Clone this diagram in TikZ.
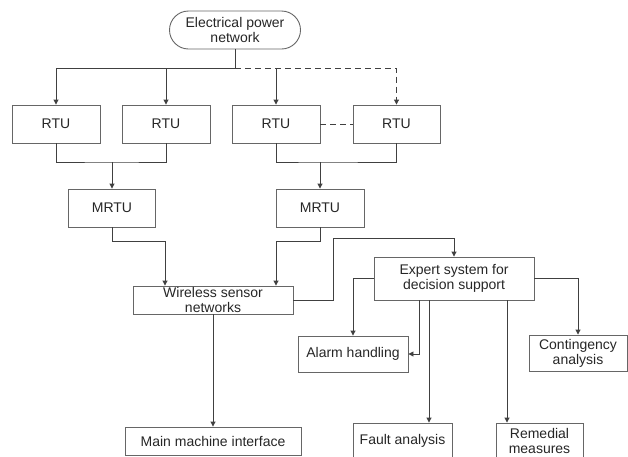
\documentclass[tikz,border=0pt]{standalone}
\usepackage{fontspec}
\setmainfont{Liberation Sans}
\usetikzlibrary{arrows.meta}
\begin{document}
\begin{tikzpicture}[x=1pt, y=-1pt, color=black!75, line width=0.9pt,
  box/.style = {shape=rectangle, draw=black!60, line width=0.9pt,
    align=center, inner sep=0pt, text=black!85,
    font=\fontsize{14}{15}\selectfont},
  arr/.style = {-{Triangle[width=5pt,length=5pt]}}]
  \useasboundingbox (0,0) rectangle (628,456);
  % top of the network
  \node[box, rounded corners=19pt, minimum width=131pt, minimum height=38pt] (epn) at (235,30) {Electrical power\\network};
  \node[box, minimum width=88pt, minimum height=38pt] (rtu1) at (56,124) {RTU};
  \node[box, minimum width=88pt, minimum height=38pt] (rtu2) at (166,124) {RTU};
  \node[box, minimum width=88pt, minimum height=38pt] (rtu3) at (276,124) {RTU};
  \node[box, minimum width=87pt, minimum height=38pt] (rtu4) at (396.5,124) {RTU};
  \node[box, minimum width=87pt, minimum height=38pt] (mrtu1) at (112,208) {MRTU};
  \node[box, minimum width=88pt, minimum height=38pt] (mrtu2) at (320,208) {MRTU};
  \node[box, minimum width=160pt, minimum height=28pt] (wsn) at (213,300) {Wireless sensor\\networks};
  \node[box, minimum width=160pt, minimum height=43pt] (expert) at (454,278.5) {Expert system for\\decision support};
  \node[box, minimum width=110pt, minimum height=36pt] (alarm) at (353,354) {Alarm handling};
  \node[box, minimum width=98pt, minimum height=36pt] (cont) at (578,353) {Contingency\\analysis};
  \node[box, minimum width=176pt, minimum height=28pt] (mmi) at (213,441) {Main machine interface};
  \node[box, minimum width=99pt, minimum height=36pt] (fault) at (402.5,441) {Fault analysis};
  \node[box, minimum width=87pt, minimum height=36pt] (remed) at (539.5,441) {Remedial\\measures};
  \coordinate (bus) at (235,68);
  \coordinate (join1) at (112,162);
  \coordinate (join2) at (320,162);
  % power network to the RTUs
  \draw (epn.south) -- (bus);
  \draw[arr] (bus) -| (rtu1.north);
  \draw[arr] (bus) -| (rtu2.north);
  \draw[arr] (rtu3.north |- bus) -- (rtu3.north);
  \draw[arr, dash pattern=on 6pt off 4pt] (bus) -| (rtu4.north);
  \draw[dash pattern=on 6pt off 4pt] (rtu3.east) -- (rtu4.west);
  % RTUs to the MRTUs
  \draw (rtu1.south) |- (join1) -| (rtu2.south);
  \draw[arr] (join1) -- (mrtu1.north);
  \draw (rtu3.south) |- (join2) -| (rtu4.south);
  \draw[arr] (join2) -- (mrtu2.north);
  % MRTUs to the sensor networks
  \draw[arr] (mrtu1.south) -- ++(0,14) -| ([xshift=-48pt]wsn.north);
  \draw[arr] (mrtu2.south) -- ++(0,14) -| ([xshift=63pt]wsn.north);
  \draw[arr] (wsn.south) -- (mmi.north);
  \draw[arr] (wsn.east) -| ++(40,-62) -| (expert.north);
  % expert system outputs
  \draw[arr] (expert.west) -| (alarm.north);
  \draw[arr] ([xshift=-35pt]expert.south) |- (alarm.east);
  \draw[arr] ([xshift=-25pt]expert.south) -- ([xshift=-25pt]expert.south |- fault.north);
  \draw[arr] ([xshift=53pt]expert.south) -- ([xshift=53pt]expert.south |- remed.north);
  \draw[arr] (expert.east) -| (cont.north);
\end{tikzpicture}
\end{document}
